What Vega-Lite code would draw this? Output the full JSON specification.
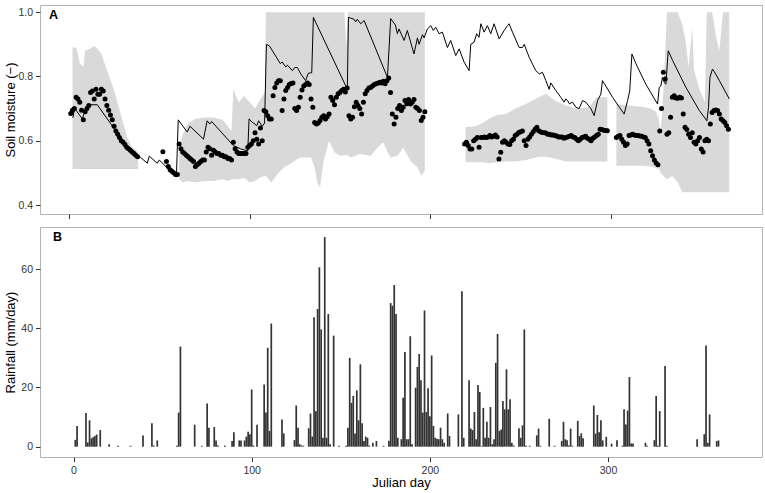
{
  "$schema": "https://vega.github.io/schema/vega-lite/v6.json",
  "padding": {"left": 3, "top": 4, "right": 3, "bottom": 3},
  "spacing": 6,
  "config": {
    "font": "Liberation Sans",
    "view": {"stroke": "#b3b3b3", "strokeWidth": 1},
    "axis": {"domain": false, "grid": false, "tickColor": "#333333", "tickSize": 4.5, "tickWidth": 1, "labelColor": "#333333", "labelFontSize": 10.5, "labelFont": "Liberation Sans", "titleFont": "Liberation Sans", "titleFontSize": 13, "titleFontWeight": "normal", "titleColor": "#000000", "labelPadding": 3},
    "axisY": {"minExtent": 22, "maxExtent": 22, "titlePadding": 1},
    "axisX": {"labelPadding": 4}
  },
  "datasets": {
    "band": [
      {"s":1,"d":2,"lo":0.512,"hi":0.89},{"s":1,"d":4,"lo":0.512,"hi":0.89},{"s":1,"d":5,"lo":0.512,"hi":0.87},{"s":1,"d":6,"lo":0.512,"hi":0.84},{"s":1,"d":8,"lo":0.512,"hi":0.83},{"s":1,"d":9,"lo":0.512,"hi":0.88},{"s":1,"d":11,"lo":0.512,"hi":0.885},{"s":1,"d":14,"lo":0.512,"hi":0.895},{"s":1,"d":16,"lo":0.512,"hi":0.885},{"s":1,"d":18,"lo":0.512,"hi":0.87},{"s":1,"d":21,"lo":0.512,"hi":0.82},{"s":1,"d":25,"lo":0.512,"hi":0.757},{"s":1,"d":28.6,"lo":0.512,"hi":0.684},{"s":1,"d":32.3,"lo":0.512,"hi":0.61},{"s":1,"d":35,"lo":0.512,"hi":0.58},{"s":1,"d":38.3,"lo":0.512,"hi":0.565},
      {"s":2,"d":61,"lo":0.48,"hi":0.58},{"s":2,"d":63,"lo":0.47,"hi":0.62},{"s":2,"d":66,"lo":0.475,"hi":0.655},{"s":2,"d":70,"lo":0.47,"hi":0.668},{"s":2,"d":75,"lo":0.475,"hi":0.672},{"s":2,"d":80,"lo":0.475,"hi":0.672},{"s":2,"d":85,"lo":0.48,"hi":0.665},{"s":2,"d":88,"lo":0.475,"hi":0.645},{"s":2,"d":90,"lo":0.48,"hi":0.63},{"s":2,"d":91,"lo":0.48,"hi":0.76},{"s":2,"d":94,"lo":0.48,"hi":0.72},{"s":2,"d":97,"lo":0.485,"hi":0.74},{"s":2,"d":100,"lo":0.47,"hi":0.72},{"s":2,"d":103,"lo":0.475,"hi":0.70},{"s":2,"d":106,"lo":0.486,"hi":0.73},{"s":2,"d":108.5,"lo":0.49,"hi":0.75},{"s":2,"d":109,"lo":0.49,"hi":1.0},{"s":2,"d":112,"lo":0.47,"hi":1.0},{"s":2,"d":116,"lo":0.50,"hi":1.0},{"s":2,"d":119,"lo":0.517,"hi":1.0},{"s":2,"d":123,"lo":0.53,"hi":1.0},{"s":2,"d":125,"lo":0.538,"hi":1.0},{"s":2,"d":128,"lo":0.548,"hi":1.0},{"s":2,"d":134,"lo":0.548,"hi":1.0},{"s":2,"d":136,"lo":0.517,"hi":1.0},{"s":2,"d":137.5,"lo":0.47,"hi":1.0},{"s":2,"d":139,"lo":0.455,"hi":1.0},{"s":2,"d":141,"lo":0.538,"hi":1.0},{"s":2,"d":144,"lo":0.60,"hi":1.0},{"s":2,"d":147,"lo":0.564,"hi":1.0},{"s":2,"d":150,"lo":0.553,"hi":1.0},{"s":2,"d":152.5,"lo":0.555,"hi":1.0},{"s":2,"d":153.5,"lo":0.555,"hi":0.89},{"s":2,"d":154.5,"lo":0.555,"hi":1.0},{"s":2,"d":156,"lo":0.548,"hi":1.0},{"s":2,"d":161,"lo":0.559,"hi":1.0},{"s":2,"d":167,"lo":0.553,"hi":1.0},{"s":2,"d":171,"lo":0.579,"hi":1.0},{"s":2,"d":174,"lo":0.595,"hi":1.0},{"s":2,"d":176,"lo":0.569,"hi":1.0},{"s":2,"d":178,"lo":0.548,"hi":1.0},{"s":2,"d":182,"lo":0.553,"hi":1.0},{"s":2,"d":185,"lo":0.579,"hi":1.0},{"s":2,"d":189,"lo":0.538,"hi":1.0},{"s":2,"d":193,"lo":0.517,"hi":1.0},{"s":2,"d":195,"lo":0.491,"hi":1.0},{"s":2,"d":197,"lo":0.507,"hi":1.0},
      {"s":3,"d":219.5,"lo":0.533,"hi":0.642},{"s":3,"d":225,"lo":0.533,"hi":0.645},{"s":3,"d":229,"lo":0.533,"hi":0.655},{"s":3,"d":233,"lo":0.53,"hi":0.67},{"s":3,"d":237,"lo":0.533,"hi":0.68},{"s":3,"d":242,"lo":0.535,"hi":0.683},{"s":3,"d":247,"lo":0.535,"hi":0.70},{"s":3,"d":253,"lo":0.54,"hi":0.714},{"s":3,"d":260,"lo":0.55,"hi":0.735},{"s":3,"d":264,"lo":0.55,"hi":0.746},{"s":3,"d":269,"lo":0.545,"hi":0.725},{"s":3,"d":275,"lo":0.535,"hi":0.71},{"s":3,"d":281,"lo":0.535,"hi":0.70},{"s":3,"d":288,"lo":0.535,"hi":0.705},{"s":3,"d":292,"lo":0.535,"hi":0.735},{"s":3,"d":298,"lo":0.535,"hi":0.735},
      {"s":4,"d":303,"lo":0.522,"hi":0.714},{"s":4,"d":310,"lo":0.522,"hi":0.71},{"s":4,"d":318,"lo":0.522,"hi":0.705},{"s":4,"d":322,"lo":0.52,"hi":0.70},{"s":4,"d":325,"lo":0.515,"hi":0.69},{"s":4,"d":326,"lo":0.51,"hi":0.67},
      {"s":5,"d":326,"lo":0.52,"hi":0.69},{"s":5,"d":327.5,"lo":0.50,"hi":0.62},{"s":5,"d":329,"lo":0.49,"hi":0.75},{"s":5,"d":331,"lo":0.48,"hi":1.0},{"s":5,"d":334,"lo":0.49,"hi":1.0},{"s":5,"d":337,"lo":0.47,"hi":1.0},{"s":5,"d":339.5,"lo":0.44,"hi":0.96},{"s":5,"d":341,"lo":0.44,"hi":0.92},{"s":5,"d":343,"lo":0.44,"hi":0.83},{"s":5,"d":345,"lo":0.44,"hi":0.95},{"s":5,"d":346,"lo":0.44,"hi":0.82},{"s":5,"d":349,"lo":0.44,"hi":0.76},{"s":5,"d":352,"lo":0.44,"hi":0.72},{"s":5,"d":353,"lo":0.44,"hi":1.0},{"s":5,"d":356,"lo":0.44,"hi":1.0},{"s":5,"d":358,"lo":0.44,"hi":0.93},{"s":5,"d":360,"lo":0.44,"hi":0.88},{"s":5,"d":362,"lo":0.44,"hi":1.0},{"s":5,"d":365.5,"lo":0.44,"hi":1.0}
    ],
    "model": [
      {"d":2.2,"v":0.671},{"d":3.1,"v":0.702},{"d":7.4,"v":0.668},{"d":9.8,"v":0.706},{"d":11.1,"v":0.712},{"d":15.7,"v":0.712},{"d":23,"v":0.654},{"d":28.6,"v":0.61},{"d":34.1,"v":0.574},{"d":39.7,"v":0.548},{"d":43.4,"v":0.53},{"d":44.5,"v":0.552},{"d":48.9,"v":0.53},{"d":50,"v":0.54},{"d":59.5,"v":0.488},{"d":60.5,"v":0.665},{"d":65.5,"v":0.627},{"d":67,"v":0.645},{"d":74.5,"v":0.605},{"d":76.5,"v":0.662},{"d":78,"v":0.652},{"d":79,"v":0.66},{"d":91,"v":0.585},{"d":95,"v":0.575},{"d":99,"v":0.568},{"d":99.7,"v":0.668},{"d":101,"v":0.66},{"d":104,"v":0.647},{"d":105,"v":0.662},{"d":107,"v":0.645},{"d":108.3,"v":0.655},{"d":109.3,"v":0.90},{"d":111,"v":0.895},{"d":117,"v":0.84},{"d":118,"v":0.845},{"d":120,"v":0.83},{"d":121,"v":0.835},{"d":123.7,"v":0.818},{"d":125,"v":0.828},{"d":126.4,"v":0.828},{"d":128.3,"v":0.808},{"d":131,"v":0.787},{"d":132.5,"v":0.81},{"d":134.4,"v":0.812},{"d":135.3,"v":0.984},{"d":154.1,"v":0.76},{"d":154.7,"v":0.984},{"d":157.8,"v":0.978},{"d":158.7,"v":0.97},{"d":159.6,"v":0.978},{"d":161.5,"v":0.964},{"d":163.4,"v":0.974},{"d":176.3,"v":0.797},{"d":178.1,"v":0.98},{"d":180.7,"v":0.96},{"d":181.8,"v":0.933},{"d":182.7,"v":0.948},{"d":185.5,"v":0.912},{"d":187.3,"v":0.943},{"d":191,"v":0.87},{"d":192.9,"v":0.92},{"d":193.8,"v":0.9},{"d":195.7,"v":0.93},{"d":196.6,"v":0.92},{"d":198.4,"v":0.948},{"d":200.3,"v":0.958},{"d":201.7,"v":0.943},{"d":203,"v":0.953},{"d":204.9,"v":0.933},{"d":206.7,"v":0.938},{"d":209.5,"v":0.89},{"d":211.3,"v":0.912},{"d":214.1,"v":0.865},{"d":216,"v":0.886},{"d":218.7,"v":0.845},{"d":221.5,"v":0.818},{"d":222.4,"v":0.90},{"d":224.2,"v":0.906},{"d":225.7,"v":0.933},{"d":227,"v":0.922},{"d":228,"v":0.964},{"d":229.8,"v":0.938},{"d":231.6,"v":0.958},{"d":233.5,"v":0.933},{"d":235.3,"v":0.964},{"d":238.1,"v":0.917},{"d":240.9,"v":0.943},{"d":242.7,"v":0.958},{"d":243.6,"v":0.964},{"d":245.5,"v":0.938},{"d":249.2,"v":0.89},{"d":251,"v":0.89},{"d":252,"v":0.90},{"d":254.7,"v":0.86},{"d":258.4,"v":0.818},{"d":260.3,"v":0.808},{"d":262.1,"v":0.813},{"d":264,"v":0.787},{"d":265.8,"v":0.76},{"d":266.7,"v":0.78},{"d":269.5,"v":0.756},{"d":272.3,"v":0.735},{"d":274.1,"v":0.72},{"d":275,"v":0.73},{"d":276,"v":0.725},{"d":277,"v":0.715},{"d":278.7,"v":0.72},{"d":280.6,"v":0.704},{"d":282.4,"v":0.70},{"d":284.3,"v":0.725},{"d":286.1,"v":0.72},{"d":288.9,"v":0.70},{"d":290.7,"v":0.678},{"d":292.6,"v":0.725},{"d":294.4,"v":0.745},{"d":295.3,"v":0.787},{"d":297.2,"v":0.77},{"d":300.9,"v":0.735},{"d":307.3,"v":0.683},{"d":309.2,"v":0.725},{"d":310.4,"v":0.755},{"d":311.6,"v":0.87},{"d":313.8,"v":0.84},{"d":319.3,"v":0.776},{"d":325.8,"v":0.714},{"d":326.7,"v":0.766},{"d":327.6,"v":0.77},{"d":328.5,"v":0.797},{"d":329.5,"v":0.782},{"d":330.4,"v":0.776},{"d":331.7,"v":0.88},{"d":334.1,"v":0.85},{"d":341.5,"v":0.766},{"d":348.9,"v":0.694},{"d":353.1,"v":0.662},{"d":354,"v":0.704},{"d":354.8,"v":0.797},{"d":356.2,"v":0.823},{"d":357.2,"v":0.815},{"d":360,"v":0.787},{"d":365.5,"v":0.73}
    ],
    "obs": [
      {"d":1,"v":0.685},{"d":2,"v":0.695},{"d":3,"v":0.70},{"d":4,"v":0.735},{"d":5,"v":0.73},{"d":6,"v":0.72},{"d":7,"v":0.695},{"d":8,"v":0.665},{"d":9,"v":0.69},{"d":10,"v":0.70},{"d":11,"v":0.71},{"d":12,"v":0.75},{"d":13,"v":0.755},{"d":14,"v":0.73},{"d":15,"v":0.76},{"d":16,"v":0.745},{"d":17,"v":0.745},{"d":18,"v":0.76},{"d":19,"v":0.755},{"d":20,"v":0.73},{"d":21,"v":0.71},{"d":22,"v":0.695},{"d":23,"v":0.68},{"d":24,"v":0.665},{"d":25,"v":0.645},{"d":26,"v":0.63},{"d":27,"v":0.62},{"d":28,"v":0.61},{"d":29,"v":0.60},{"d":30,"v":0.595},{"d":31,"v":0.588},{"d":32,"v":0.58},{"d":33,"v":0.575},{"d":34,"v":0.57},{"d":35,"v":0.565},{"d":36,"v":0.56},{"d":37,"v":0.555},{"d":38,"v":0.55},
      {"d":52,"v":0.566},{"d":54,"v":0.535},{"d":55,"v":0.52},{"d":56,"v":0.51},{"d":57,"v":0.505},{"d":58,"v":0.50},{"d":59,"v":0.495},{"d":60,"v":0.495},{"d":61,"v":0.59},{"d":62,"v":0.575},{"d":63,"v":0.565},{"d":64,"v":0.56},{"d":65,"v":0.555},{"d":66,"v":0.55},{"d":67,"v":0.545},{"d":68,"v":0.54},{"d":69,"v":0.535},{"d":70,"v":0.52},{"d":71,"v":0.525},{"d":72,"v":0.53},{"d":73,"v":0.535},{"d":74,"v":0.54},{"d":75,"v":0.54},{"d":76,"v":0.565},{"d":77,"v":0.58},{"d":78,"v":0.575},{"d":79,"v":0.555},{"d":80,"v":0.57},{"d":81,"v":0.565},{"d":82,"v":0.56},{"d":83,"v":0.56},{"d":84,"v":0.555},{"d":85,"v":0.555},{"d":86,"v":0.55},{"d":87,"v":0.55},{"d":88,"v":0.545},{"d":89,"v":0.545},{"d":90,"v":0.54},{"d":91,"v":0.595},{"d":92,"v":0.575},{"d":93,"v":0.565},{"d":94,"v":0.56},{"d":95,"v":0.56},{"d":96,"v":0.56},{"d":97,"v":0.56},{"d":98,"v":0.56},{"d":99,"v":0.58},{"d":100,"v":0.585},{"d":101,"v":0.59},{"d":102,"v":0.60},{"d":103,"v":0.625},{"d":104,"v":0.605},{"d":105,"v":0.59},{"d":106,"v":0.64},{"d":107,"v":0.60},{"d":108,"v":0.694},{"d":109,"v":0.69},{"d":110,"v":0.678},{"d":111,"v":0.668},{"d":112,"v":0.668},{"d":113,"v":0.74},{"d":114,"v":0.766},{"d":115,"v":0.78},{"d":116,"v":0.787},{"d":117,"v":0.787},{"d":118,"v":0.694},{"d":119,"v":0.73},{"d":120,"v":0.756},{"d":121,"v":0.766},{"d":122,"v":0.775},{"d":123,"v":0.778},{"d":124,"v":0.78},{"d":125,"v":0.70},{"d":126,"v":0.694},{"d":127,"v":0.704},{"d":128,"v":0.735},{"d":129,"v":0.758},{"d":130,"v":0.77},{"d":131,"v":0.775},{"d":132,"v":0.78},{"d":133,"v":0.775},{"d":134,"v":0.73},{"d":135,"v":0.704},{"d":136,"v":0.657},{"d":137,"v":0.652},{"d":138,"v":0.655},{"d":139,"v":0.663},{"d":140,"v":0.673},{"d":141,"v":0.678},{"d":142,"v":0.668},{"d":143,"v":0.675},{"d":144,"v":0.683},{"d":145,"v":0.735},{"d":146,"v":0.725},{"d":147,"v":0.712},{"d":148,"v":0.735},{"d":149,"v":0.746},{"d":150,"v":0.75},{"d":151,"v":0.756},{"d":152,"v":0.76},{"d":153,"v":0.752},{"d":154,"v":0.764},{"d":155,"v":0.678},{"d":156,"v":0.668},{"d":157,"v":0.673},{"d":158,"v":0.706},{"d":159,"v":0.72},{"d":160,"v":0.71},{"d":161,"v":0.70},{"d":162,"v":0.683},{"d":163,"v":0.72},{"d":164,"v":0.746},{"d":165,"v":0.756},{"d":166,"v":0.764},{"d":167,"v":0.766},{"d":168,"v":0.77},{"d":169,"v":0.775},{"d":170,"v":0.777},{"d":171,"v":0.779},{"d":172,"v":0.782},{"d":173,"v":0.78},{"d":174,"v":0.785},{"d":175,"v":0.777},{"d":176,"v":0.787},{"d":177,"v":0.795},{"d":178,"v":0.75},{"d":179,"v":0.683},{"d":180,"v":0.652},{"d":181,"v":0.673},{"d":182,"v":0.70},{"d":183,"v":0.71},{"d":184,"v":0.694},{"d":185,"v":0.704},{"d":186,"v":0.725},{"d":187,"v":0.715},{"d":188,"v":0.728},{"d":189,"v":0.714},{"d":190,"v":0.72},{"d":191,"v":0.728},{"d":192,"v":0.704},{"d":193,"v":0.70},{"d":194,"v":0.694},{"d":195,"v":0.663},{"d":196,"v":0.673},{"d":197,"v":0.69},
      {"d":219,"v":0.59},{"d":220,"v":0.595},{"d":221,"v":0.585},{"d":222,"v":0.574},{"d":223,"v":0.574},{"d":224,"v":0.60},{"d":225,"v":0.605},{"d":226,"v":0.61},{"d":227,"v":0.58},{"d":228,"v":0.61},{"d":229,"v":0.61},{"d":230,"v":0.612},{"d":231,"v":0.61},{"d":232,"v":0.612},{"d":233,"v":0.616},{"d":234,"v":0.612},{"d":235,"v":0.614},{"d":236,"v":0.618},{"d":237,"v":0.612},{"d":238,"v":0.543},{"d":239,"v":0.564},{"d":240,"v":0.595},{"d":241,"v":0.60},{"d":242,"v":0.595},{"d":243,"v":0.59},{"d":244,"v":0.588},{"d":245,"v":0.60},{"d":246,"v":0.605},{"d":247,"v":0.616},{"d":248,"v":0.62},{"d":249,"v":0.626},{"d":250,"v":0.628},{"d":251,"v":0.63},{"d":252,"v":0.60},{"d":253,"v":0.585},{"d":254,"v":0.605},{"d":255,"v":0.612},{"d":256,"v":0.62},{"d":257,"v":0.628},{"d":258,"v":0.636},{"d":259,"v":0.642},{"d":260,"v":0.631},{"d":261,"v":0.628},{"d":262,"v":0.626},{"d":263,"v":0.625},{"d":264,"v":0.624},{"d":265,"v":0.62},{"d":266,"v":0.62},{"d":267,"v":0.618},{"d":268,"v":0.618},{"d":269,"v":0.616},{"d":270,"v":0.615},{"d":271,"v":0.612},{"d":272,"v":0.612},{"d":273,"v":0.612},{"d":274,"v":0.608},{"d":275,"v":0.61},{"d":276,"v":0.612},{"d":277,"v":0.614},{"d":278,"v":0.616},{"d":279,"v":0.612},{"d":280,"v":0.61},{"d":281,"v":0.605},{"d":282,"v":0.60},{"d":283,"v":0.605},{"d":284,"v":0.61},{"d":285,"v":0.612},{"d":286,"v":0.614},{"d":287,"v":0.608},{"d":288,"v":0.605},{"d":289,"v":0.60},{"d":290,"v":0.608},{"d":291,"v":0.612},{"d":292,"v":0.616},{"d":293,"v":0.62},{"d":294,"v":0.636},{"d":295,"v":0.635},{"d":296,"v":0.633},{"d":297,"v":0.632},{"d":298,"v":0.631},
      {"d":303,"v":0.61},{"d":304,"v":0.614},{"d":305,"v":0.616},{"d":306,"v":0.605},{"d":307,"v":0.595},{"d":308,"v":0.585},{"d":309,"v":0.59},{"d":310,"v":0.616},{"d":311,"v":0.618},{"d":312,"v":0.62},{"d":313,"v":0.618},{"d":314,"v":0.616},{"d":315,"v":0.616},{"d":316,"v":0.615},{"d":317,"v":0.614},{"d":318,"v":0.612},{"d":319,"v":0.61},{"d":320,"v":0.60},{"d":321,"v":0.59},{"d":322,"v":0.569},{"d":323,"v":0.553},{"d":324,"v":0.54},{"d":325,"v":0.531},{"d":326,"v":0.525},
      {"d":327,"v":0.63},{"d":328,"v":0.70},{"d":329,"v":0.813},{"d":330,"v":0.792},{"d":331,"v":0.62},{"d":332,"v":0.625},{"d":333,"v":0.673},{"d":334,"v":0.735},{"d":335,"v":0.74},{"d":336,"v":0.733},{"d":337,"v":0.732},{"d":338,"v":0.735},{"d":339,"v":0.733},{"d":340,"v":0.683},{"d":341,"v":0.642},{"d":342,"v":0.635},{"d":343,"v":0.62},{"d":344,"v":0.61},{"d":345,"v":0.625},{"d":346,"v":0.595},{"d":347,"v":0.59},{"d":348,"v":0.60},{"d":349,"v":0.61},{"d":350,"v":0.574},{"d":351,"v":0.565},{"d":352,"v":0.60},{"d":353,"v":0.605},{"d":354,"v":0.60},{"d":355,"v":0.652},{"d":356,"v":0.688},{"d":357,"v":0.694},{"d":358,"v":0.696},{"d":359,"v":0.694},{"d":360,"v":0.683},{"d":361,"v":0.668},{"d":362,"v":0.662},{"d":363,"v":0.657},{"d":364,"v":0.647},{"d":365,"v":0.636}
    ],
    "rain": [
      {"d":1,"r":2.3},{"d":2,"r":7.0},{"d":7,"r":11.4},{"d":8,"r":1.4},{"d":9,"r":8.9},{"d":10,"r":2.8},{"d":11,"r":3.2},{"d":12,"r":3.6},{"d":13,"r":4.1},{"d":15,"r":5.6},{"d":20,"r":0.8},{"d":25,"r":0.3},{"d":32,"r":0.3},{"d":39,"r":3.8},{"d":44,"r":7.9},{"d":45,"r":0.4},{"d":47,"r":2.1},{"d":58,"r":0.3},{"d":59,"r":11.5},{"d":60,"r":33.8},{"d":68,"r":7.4},{"d":72,"r":0.3},{"d":75,"r":14.6},{"d":76,"r":6.4},{"d":79,"r":6.6},{"d":80,"r":2.1},{"d":81,"r":0.4},{"d":85,"r":0.4},{"d":89,"r":1.9},{"d":90,"r":4.9},{"d":93,"r":2.1},{"d":94,"r":2.1},{"d":96,"r":2.1},{"d":97,"r":3.4},{"d":98,"r":5.0},{"d":99,"r":4.2},{"d":100,"r":19.3},{"d":101,"r":0.4},{"d":103,"r":7.4},{"d":107,"r":21.0},{"d":108,"r":11.5},{"d":109,"r":33.4},{"d":110,"r":5.3},{"d":111,"r":41.6},{"d":117,"r":9.2},{"d":118,"r":4.5},{"d":124,"r":2.2},{"d":125,"r":13.9},{"d":126,"r":6.4},{"d":127,"r":0.8},{"d":128,"r":0.4},{"d":129,"r":0.3},{"d":132,"r":6.2},{"d":133,"r":11.2},{"d":134,"r":3.4},{"d":135,"r":43.7},{"d":136,"r":12.0},{"d":137,"r":46.5},{"d":138,"r":60.6},{"d":139,"r":39.6},{"d":140,"r":3.0},{"d":141,"r":70.8},{"d":142,"r":3.0},{"d":143,"r":44.8},{"d":144,"r":0.8},{"d":146,"r":37.5},{"d":149,"r":0.3},{"d":153,"r":0.3},{"d":154,"r":6.4},{"d":155,"r":30.0},{"d":156,"r":14.8},{"d":157,"r":17.1},{"d":158,"r":4.4},{"d":159,"r":19.0},{"d":160,"r":8.9},{"d":161,"r":27.8},{"d":162,"r":7.9},{"d":163,"r":1.9},{"d":164,"r":3.4},{"d":165,"r":3.0},{"d":166,"r":0.4},{"d":168,"r":1.3},{"d":170,"r":1.9},{"d":174,"r":0.3},{"d":177,"r":2.0},{"d":178,"r":48.5},{"d":179,"r":47.6},{"d":180,"r":54.6},{"d":181,"r":44.8},{"d":182,"r":3.0},{"d":184,"r":2.5},{"d":185,"r":16.5},{"d":186,"r":32.0},{"d":187,"r":2.5},{"d":188,"r":2.5},{"d":189,"r":37.3},{"d":190,"r":0.8},{"d":192,"r":19.9},{"d":193,"r":26.9},{"d":194,"r":31.3},{"d":195,"r":22.4},{"d":196,"r":11.5},{"d":197,"r":46.0},{"d":198,"r":11.7},{"d":199,"r":19.7},{"d":200,"r":10.3},{"d":201,"r":30.8},{"d":202,"r":7.0},{"d":203,"r":3.0},{"d":204,"r":2.7},{"d":205,"r":2.5},{"d":206,"r":6.4},{"d":207,"r":2.5},{"d":208,"r":1.3},{"d":210,"r":11.2},{"d":211,"r":3.6},{"d":216,"r":10.9},{"d":218,"r":52.5},{"d":219,"r":3.0},{"d":222,"r":22.4},{"d":223,"r":6.1},{"d":224,"r":5.6},{"d":225,"r":11.7},{"d":226,"r":2.5},{"d":227,"r":20.8},{"d":228,"r":18.5},{"d":229,"r":0.2},{"d":230,"r":13.1},{"d":231,"r":3.0},{"d":232,"r":8.4},{"d":233,"r":3.0},{"d":234,"r":13.4},{"d":235,"r":0.8},{"d":236,"r":2.5},{"d":237,"r":28.3},{"d":238,"r":38.1},{"d":239,"r":5.3},{"d":240,"r":5.8},{"d":241,"r":15.4},{"d":242,"r":12.6},{"d":243,"r":26.1},{"d":244,"r":12.6},{"d":245,"r":16.0},{"d":246,"r":1.3},{"d":247,"r":0.4},{"d":250,"r":6.2},{"d":251,"r":3.0},{"d":252,"r":7.2},{"d":253,"r":39.6},{"d":254,"r":0.3},{"d":256,"r":0.3},{"d":260,"r":3.8},{"d":261,"r":6.1},{"d":262,"r":0.3},{"d":267,"r":9.4},{"d":270,"r":0.3},{"d":274,"r":1.9},{"d":275,"r":8.4},{"d":276,"r":2.5},{"d":277,"r":2.2},{"d":278,"r":0.4},{"d":279,"r":6.1},{"d":280,"r":0.3},{"d":283,"r":8.7},{"d":284,"r":3.6},{"d":285,"r":4.5},{"d":286,"r":2.8},{"d":292,"r":13.9},{"d":293,"r":4.4},{"d":294,"r":10.7},{"d":295,"r":4.9},{"d":296,"r":8.9},{"d":297,"r":2.1},{"d":299,"r":3.3},{"d":302,"r":1.0},{"d":305,"r":2.2},{"d":308,"r":0.3},{"d":309,"r":12.6},{"d":310,"r":7.5},{"d":311,"r":12.2},{"d":312,"r":23.5},{"d":313,"r":1.1},{"d":314,"r":1.1},{"d":321,"r":1.3},{"d":322,"r":0.3},{"d":326,"r":2.2},{"d":327,"r":17.1},{"d":328,"r":0.3},{"d":329,"r":12.0},{"d":332,"r":27.2},{"d":333,"r":0.3},{"d":350,"r":2.5},{"d":354,"r":4.2},{"d":355,"r":34.2},{"d":356,"r":1.3},{"d":357,"r":10.9},{"d":361,"r":1.9},{"d":362,"r":2.1}
    ]
  },
  "vconcat": [
    {
      "width": 722,
      "height": 209,
      "layer": [
        {
          "data": {"name": "band"},
          "mark": {"type": "area", "color": "#d9d9d9", "opacity": 1},
          "encoding": {
            "x": {"field": "d", "type": "quantitative", "scale": {"domain": [-16, 383.6], "nice": false, "zero": false}, "axis": {"values": [0, 100, 200, 300], "labels": false, "title": null}},
            "y": {"field": "hi", "type": "quantitative", "scale": {"domain": [0.372, 1.0224], "nice": false, "zero": false}, "axis": {"values": [0.4, 0.6, 0.8, 1.0], "format": ".1f", "title": "Soil moisture (−)"}},
            "y2": {"field": "lo"},
            "detail": {"field": "s", "type": "nominal"}
          }
        },
        {
          "data": {"name": "model"},
          "mark": {"type": "line", "color": "#000000", "strokeWidth": 1},
          "encoding": {
            "x": {"field": "d", "type": "quantitative"},
            "y": {"field": "v", "type": "quantitative"}
          }
        },
        {
          "data": {"name": "obs"},
          "mark": {"type": "circle", "color": "#000000", "opacity": 1, "size": 25},
          "encoding": {
            "x": {"field": "d", "type": "quantitative"},
            "y": {"field": "v", "type": "quantitative"}
          }
        },
        {
          "data": {"values": [{}]},
          "mark": {"type": "text", "text": "A", "align": "left", "baseline": "alphabetic", "dx": 9, "dy": 14, "fontSize": 12.5, "fontWeight": "bold", "color": "#000000", "font": "Liberation Sans"},
          "encoding": {
            "x": {"datum": -16, "type": "quantitative"},
            "y": {"datum": 1.0224, "type": "quantitative"}
          }
        }
      ]
    },
    {
      "width": 722,
      "height": 230,
      "layer": [
        {
          "data": {"name": "rain"},
          "mark": {"type": "bar", "color": "#333333", "size": 1.7},
          "encoding": {
            "x": {"field": "d", "type": "quantitative", "scale": {"domain": [-16, 383.6], "nice": false, "zero": false}, "axis": {"values": [0, 100, 200, 300], "title": "Julian day", "titlePadding": 0}},
            "y": {"field": "r", "type": "quantitative", "scale": {"domain": [-3.5, 74.2], "nice": false, "zero": false}, "axis": {"values": [0, 20, 40, 60], "title": "Rainfall (mm/day)"}}
          }
        },
        {
          "data": {"values": [{}]},
          "mark": {"type": "text", "text": "B", "align": "left", "baseline": "alphabetic", "dx": 8, "dy": 14, "fontSize": 12.5, "fontWeight": "bold", "color": "#000000", "font": "Liberation Sans"},
          "encoding": {
            "x": {"datum": -16, "type": "quantitative"},
            "y": {"datum": 74.2, "type": "quantitative"}
          }
        }
      ]
    }
  ]
}
